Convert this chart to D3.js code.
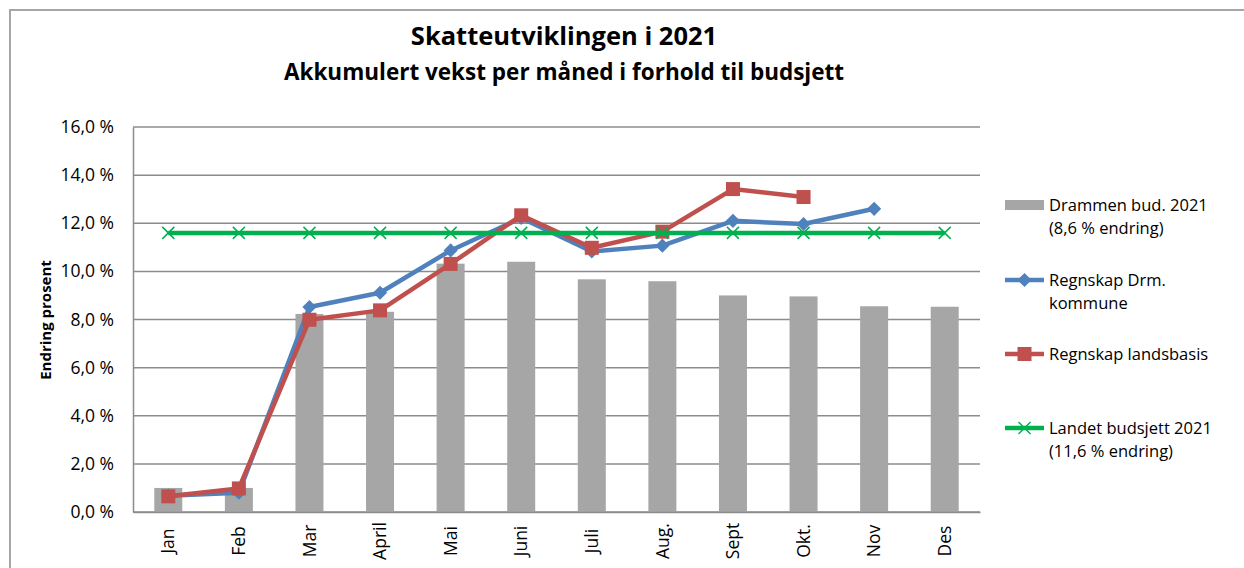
<!DOCTYPE html>
<html><head><meta charset="utf-8">
<script src="https://cdn.jsdelivr.net/npm/d3@7"></script>
<style>
html,body{margin:0;padding:0;background:#fff;}
svg{display:block;}
</style></head>
<body>
<svg id="c" width="1244" height="568"></svg>
<script>
const months = ["Jan","Feb","Mar","April","Mai","Juni","Juli","Aug.","Sept","Okt.","Nov","Des"];
const drammenBud = [1.0,1.0,8.23,8.32,10.32,10.4,9.67,9.59,9.0,8.96,8.55,8.53];
const regnskapDrm = [0.68,0.8,8.52,9.11,10.87,12.22,10.83,11.07,12.1,11.97,12.6,null];
const regnskapLand = [0.65,0.98,7.99,8.38,10.31,12.33,10.98,11.65,13.42,13.09,null,null];
const landetBud = [11.6,11.6,11.6,11.6,11.6,11.6,11.6,11.6,11.6,11.6,11.6,11.6];
const yTicks = [0,2,4,6,8,10,12,14,16];
const legendLabels = [["Drammen bud. 2021","(8,6 % endring)"],["Regnskap Drm.","kommune"],["Regnskap landsbasis"],["Landet budsjett 2021","(11,6 % endring)"]];

const svg = d3.select("#c");
const font = "'Open Sans', sans-serif";
const L = 133, R = 980, T = 127, B = 512;
const x = d3.scaleBand().domain(months).range([L, R]);
const y = d3.scaleLinear().domain([0,16]).range([B, T]);
const fmt = v => d3.format(".1f")(v).replace(".", ",") + " %";

// outer frame
svg.append("rect").attr("x",10).attr("y",10).attr("width",1250).attr("height",580)
  .attr("fill","none").attr("stroke","#a6a6a6").attr("stroke-width",2);

// titles
svg.append("text").attr("x",564).attr("y",45).attr("text-anchor","middle")
  .attr("font-family",font).attr("font-weight","bold").attr("font-size",25.5)
  .text("Skatteutviklingen i 2021");
svg.append("text").attr("x",564).attr("y",80).attr("text-anchor","middle")
  .attr("font-family",font).attr("font-weight","bold").attr("font-size",22.5)
  .text("Akkumulert vekst per måned i forhold til budsjett");

// gridlines
svg.append("g").selectAll("line").data(yTicks).join("line")
  .attr("x1",L).attr("x2",R).attr("y1",d=>y(d)).attr("y2",d=>y(d))
  .attr("stroke","#8c8c8c").attr("stroke-width",1.5);

// y axis
const ya = svg.append("g").attr("transform",`translate(${L},0)`)
  .call(d3.axisLeft(y).tickValues(yTicks).tickFormat(fmt).tickSize(0).tickPadding(19));
ya.select(".domain").attr("stroke","#8c8c8c").attr("stroke-width",1.5);
ya.selectAll("text").attr("font-family",font).attr("font-size",17.5).attr("fill","#000");

// y title
svg.append("text").attr("transform","translate(51,320) rotate(-90)").attr("text-anchor","middle")
  .attr("font-family",font).attr("font-weight","bold").attr("font-size",15).text("Endring prosent");

// bars
const bw = 28;
svg.append("g").selectAll("rect").data(drammenBud).join("rect")
  .attr("x",(d,i)=>x(months[i])+x.bandwidth()/2-bw/2).attr("width",bw)
  .attr("y",d=>y(d)).attr("height",d=>B-y(d)).attr("fill","#a6a6a6");

// x axis
const xa = svg.append("g").attr("transform",`translate(0,${B})`)
  .call(d3.axisBottom(x).tickSize(0).tickPadding(0));
xa.select(".domain").attr("stroke","#8c8c8c").attr("stroke-width",1.5);
xa.selectAll("text").attr("font-family",font).attr("font-size",17.5).attr("fill","#000")
  .attr("transform","translate(0,29) rotate(-90)").attr("text-anchor","middle")
  .attr("dy","0.35em").attr("y",0).attr("x",0);

const cx = i => x(months[i]) + x.bandwidth()/2;
const line = d3.line().defined(d=>d.v!=null).x(d=>cx(d.i)).y(d=>y(d.v));
const pts = arr => arr.map((v,i)=>({v,i})).filter(d=>d.v!=null);

// blue
svg.append("path").datum(regnskapDrm.map((v,i)=>({v,i}))).attr("d",line)
  .attr("fill","none").attr("stroke","#4f81bd").attr("stroke-width",4.5).attr("stroke-linejoin","round");
svg.append("g").selectAll("path").data(pts(regnskapDrm)).join("path")
  .attr("d",d3.symbol(d3.symbolSquare, 100))
  .attr("transform",d=>`translate(${cx(d.i)},${y(d.v)}) rotate(45)`)
  .attr("fill","#4f81bd");

// red
svg.append("path").datum(regnskapLand.map((v,i)=>({v,i}))).attr("d",line)
  .attr("fill","none").attr("stroke","#c0504d").attr("stroke-width",4.5).attr("stroke-linejoin","round");
svg.append("g").selectAll("rect").data(pts(regnskapLand)).join("rect")
  .attr("x",d=>cx(d.i)-7).attr("y",d=>y(d.v)-7).attr("width",14).attr("height",14)
  .attr("fill","#c0504d");

// green
svg.append("path").datum(landetBud.map((v,i)=>({v,i}))).attr("d",line)
  .attr("fill","none").attr("stroke","#00b050").attr("stroke-width",4.5);
svg.append("g").selectAll("path").data(pts(landetBud)).join("path")
  .attr("d","M-6,-6L6,6M-6,6L6,-6")
  .attr("transform",d=>`translate(${cx(d.i)},${y(d.v)})`)
  .attr("stroke","#00b050").attr("stroke-width",1.5).attr("fill","none");

// legend
const lg = svg.append("g").attr("font-family",font).attr("font-size",16.5);
const lys = [205, 280, 354, 428];
const lx0 = 1005, lx1 = 1044, tx = 1049;
lg.append("rect").attr("x",lx0).attr("y",lys[0]-5).attr("width",lx1-lx0).attr("height",10).attr("fill","#a6a6a6");
lg.append("line").attr("x1",lx0).attr("x2",lx1).attr("y1",lys[1]).attr("y2",lys[1]).attr("stroke","#4f81bd").attr("stroke-width",4.5);
lg.append("path").attr("d",d3.symbol(d3.symbolSquare,100)).attr("transform",`translate(${(lx0+lx1)/2},${lys[1]}) rotate(45)`).attr("fill","#4f81bd");
lg.append("line").attr("x1",lx0).attr("x2",lx1).attr("y1",lys[2]).attr("y2",lys[2]).attr("stroke","#c0504d").attr("stroke-width",4.5);
lg.append("rect").attr("x",(lx0+lx1)/2-7).attr("y",lys[2]-7).attr("width",14).attr("height",14).attr("fill","#c0504d");
lg.append("line").attr("x1",lx0).attr("x2",lx1).attr("y1",lys[3]).attr("y2",lys[3]).attr("stroke","#00b050").attr("stroke-width",4.5);
lg.append("path").attr("d","M-6,-6L6,6M-6,6L6,-6").attr("transform",`translate(${(lx0+lx1)/2},${lys[3]})`).attr("stroke","#00b050").attr("stroke-width",1.5);
legendLabels.forEach((lines,k)=>{
  lines.forEach((t,j)=>{
    lg.append("text").attr("x",tx).attr("y",lys[k]+j*23).attr("dy","0.35em").text(t);
  });
});
</script>
</body></html>
